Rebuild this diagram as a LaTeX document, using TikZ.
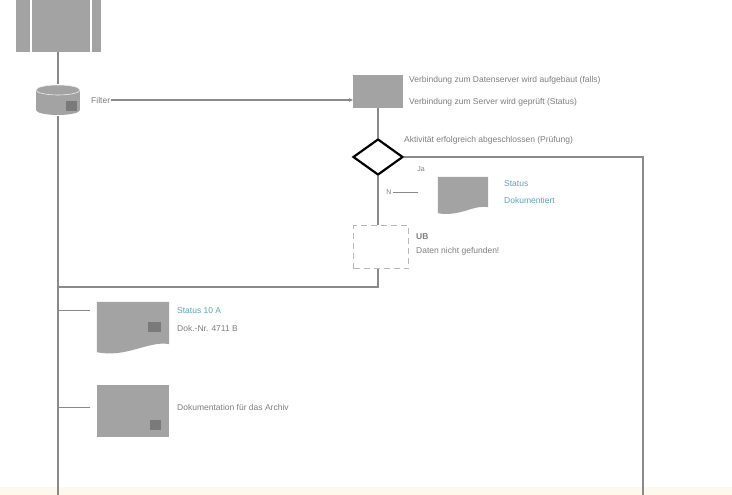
\documentclass[tikz,border=0pt]{standalone}
\usepackage{fontspec}
\setmainfont{Liberation Sans}
\usetikzlibrary{shapes.geometric,calc,arrows.meta}
\definecolor{boxgray}{HTML}{A3A3A3}
\definecolor{darkbit}{HTML}{7A7A7A}
\definecolor{linegray}{HTML}{8A8A8A}
\definecolor{txtgray}{HTML}{7E7E7E}
\definecolor{tealtxt}{HTML}{5AA4BA}
\definecolor{cream}{HTML}{FDF9EC}
\begin{document}
\begin{tikzpicture}[x=1pt,y=-1pt,
  lbl/.style={font=\fontsize{8.5}{10}\selectfont, text=txtgray, inner sep=1pt},
  tlbl/.style={lbl, text=tealtxt},
  conn/.style={draw=linegray, line width=1.6pt},
  stub/.style={draw=linegray, line width=1pt},
  graybox/.style={fill=boxgray, inner sep=0pt},
  holder/.style={inner sep=0pt}]
\useasboundingbox (0,0) rectangle (732,495);
\fill[cream] (0,487) rectangle (732,495);

% predefined process
\node[graybox, minimum width=85pt, minimum height=52pt] (top) at (58,26) {};
\draw[white, line width=2.5pt] (31,0) -- (31,52);
\draw[white, line width=2.5pt] (91,0) -- (91,52);

% database cylinder
\node[holder, minimum width=44pt, minimum height=32pt] (db) at (58,100) {};
\fill[boxgray] (36,90) rectangle (80,110);
\fill[boxgray] (58,110) ellipse [x radius=22, y radius=5];
\fill[boxgray] (58,90) ellipse [x radius=22, y radius=5];
\draw[white!80!boxgray, line width=0.6pt] (58,90) ellipse [x radius=22, y radius=5];
\fill[darkbit] (66,101) rectangle (77,111);
\node[lbl, anchor=west] (filt) at (90,100) {Filter};

% square top right
\node[graybox, minimum width=50pt, minimum height=33pt] (sq) at (378,91.5) {};
\node[lbl, anchor=west] (t1) at (408,80) {Verbindung zum Datenserver wird aufgebaut (falls)};
\node[lbl, anchor=west] (t2) at (408,102) {Verbindung zum Server wird geprüft (Status)};

% decision
\node[diamond, draw=black, line width=2.2pt, fill=white, inner sep=0pt,
      minimum width=50pt, minimum height=36pt] (dec) at (378,157) {};
\node[lbl, anchor=west] (dt) at (403,140) {Aktivität erfolgreich abgeschlossen (Prüfung)};
\node[lbl, font=\fontsize{7}{8}\selectfont] (ja) at (421,169) {Ja};

% doc right
\node[holder, minimum width=50pt, minimum height=36pt] (d2) at (463,195) {};
\fill[boxgray] (d2.north west) -- (d2.north east) -- ($(d2.south east)+(0,-6)$)
  .. controls ($(d2.south east)+(-14,-9)$) and ($(d2.south west)+(22,4)$) .. (d2.south west) -- cycle;
\node[tlbl, anchor=west] (d2a) at (503,184) {Status};
\node[tlbl, anchor=west] (d2b) at (503,200) {Dokumentiert};
\node[lbl, font=\fontsize{7}{8}\selectfont] (nl) at (389,192) {N};
\coordinate (nend) at (418,192);

% dashed box
\node[draw=gray!55, dashed, dash pattern=on 6pt off 4pt, line width=0.9pt,
      minimum width=55pt, minimum height=43pt, inner sep=0pt] (ub) at (381,247) {};
\node[lbl, anchor=west, font=\fontsize{8.5}{10}\selectfont\bfseries] (ub1) at (415,237) {UB};
\node[lbl, anchor=west] (ub2) at (415,251) {Daten nicht gefunden!};

% left docs
\node[holder, minimum width=72pt, minimum height=50pt] (d1) at (133,327) {};
\fill[boxgray] (d1.north west) -- (d1.north east) -- ($(d1.south east)+(0,-8)$)
  .. controls ($(d1.south east)+(-20,-12)$) and ($(d1.south west)+(30,6)$) .. (d1.south west) -- cycle;
\fill[darkbit] (148,322) rectangle (161,332);
\node[tlbl, anchor=west] (d1a) at (176,311) {Status 10 A};
\node[lbl, anchor=west] (d1b) at (176,328) {Dok.-Nr. 4711 B};

\node[graybox, minimum width=72pt, minimum height=52pt] (r2) at (133,411) {};
\fill[darkbit] (150,420) rectangle (161,430);
\node[lbl, anchor=west] (r2a) at (176,407) {Dokumentation für das Archiv};

% coordinates
\coordinate (rc) at (643,157);
\coordinate (rb) at (643,495);
\coordinate (j) at (378,287);
\coordinate (jl) at (58,287);
\coordinate (bl) at (58,495);
\coordinate (s1) at (58,310);
\coordinate (s2) at (58,407);
\coordinate (s1e) at (90,310);
\coordinate (s2e) at (90,407);

% connectors
\draw[conn] (top.south) -- (db.north);
\draw[conn] (db.south) -- (bl);
\draw[stub, line width=1.4pt, -{Stealth[length=4pt,width=4pt]}] (filt.east) -- (filt.east -| sq.west);
\draw[conn] (sq.south) -- (dec.north);
\draw[conn] (dec.east) -- (rc) -- (rb);
\draw[conn] (dec.south) -- (dec.south |- ub.north);
\draw[stub] (nl.east) -- (nend);
\draw[conn] (j |- ub.south) -- (j) -- (jl);
\draw[stub] (s1) -- (s1e);
\draw[stub] (s2) -- (s2e);
\end{tikzpicture}
\end{document}
